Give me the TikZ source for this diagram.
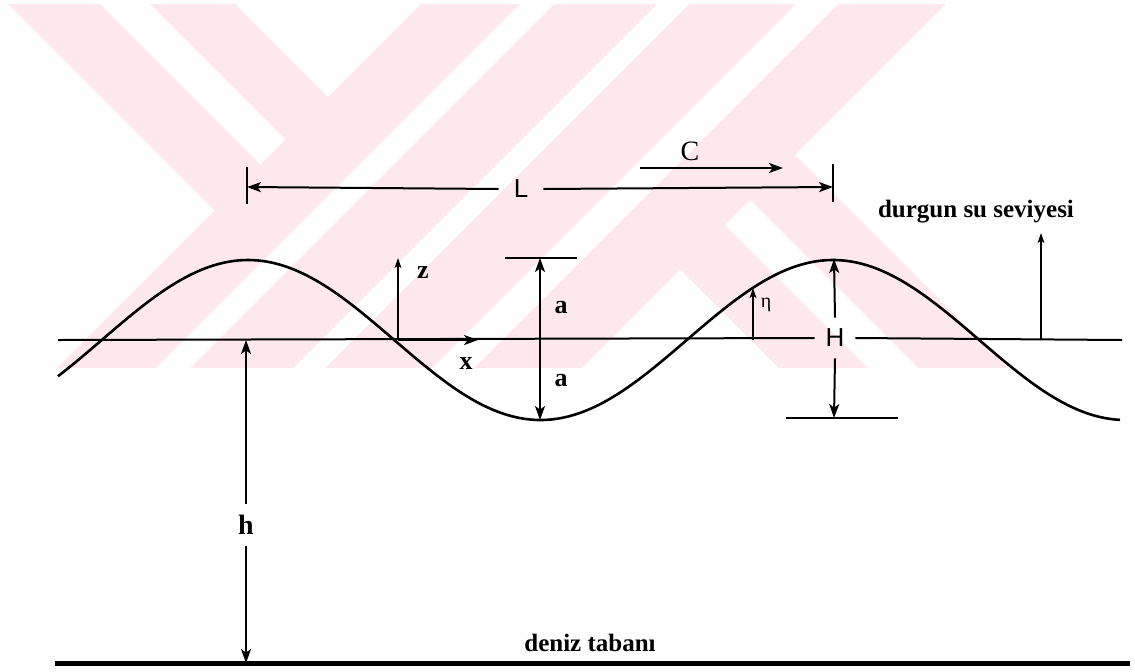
\documentclass[tikz,border=0pt]{standalone}
\usepackage{fontspec}
\setmainfont{Liberation Serif}
\newfontfamily\sansf{Liberation Sans}
\usetikzlibrary{arrows.meta}
\definecolor{wm}{RGB}{253,233,237}
\begin{document}
\begin{tikzpicture}[x=0.5pt,y=-0.5pt,
  ln/.style={line width=1pt},
  bigarr/.style={ln,-{Stealth[length=7pt,width=5pt,inset=1.8pt]}},
  smallarr/.style={line width=0.8pt,-{Stealth[length=5pt,width=3.4pt,inset=1.2pt]}},
  lbl/.style={inner sep=0pt,font=\bfseries\fontsize{13}{13}\selectfont},
  serif/.style={inner sep=0pt,font=\bfseries\fontsize{12.5}{12.5}\selectfont},
  sanslbl/.style={inner sep=0pt,font=\sansf\fontsize{13}{13}\selectfont}]
\useasboundingbox (0,0) rectangle (1135,671);
% watermark
\begin{scope}
\clip (0,4) rectangle (1135,368);
\fill[wm] (421,4) -- (520,4) -- (156,368) -- (57,368) -- cycle;
\fill[wm] (554,4) -- (657,4) -- (293,368) -- (190,368) -- cycle;
\fill[wm] (689,4) -- (796,4) -- (432,368) -- (325,368) -- cycle;
\fill[wm] (838,4) -- (946,4) -- (582,368) -- (474,368) -- cycle;
\fill[wm] (8,4) -- (100,4) -- (268,172) -- (222,218) -- cycle;
\fill[wm] (150,4) -- (235,4) -- (335.5,104.5) -- (293,147) -- cycle;
\fill[wm] (673,262) -- (717.5,217.5) -- (868,368) -- (779,368) -- cycle;
\fill[wm] (742.5,192.5) -- (787.5,147.5) -- (1008,368) -- (918,368) -- cycle;
\end{scope}
% named points
\coordinate (swlL) at (58,340);
\coordinate (swlR) at (1122,340);
\coordinate (crestA) at (247,187);
\coordinate (crestB) at (833,187);
\coordinate (orig) at (398,340);
\coordinate (ztip) at (398,258);
\coordinate (xtip) at (478,340);
\coordinate (atop) at (540,258);
\coordinate (abot) at (540,420);
\coordinate (Htop) at (834,259);
\coordinate (Hbot) at (834,418);
\coordinate (etab) at (753,340);
\coordinate (etat) at (753,288);
\coordinate (hbase) at (246,340);
\coordinate (hbed) at (246,663);
\coordinate (dsA) at (1041,340);
\coordinate (dsB) at (1041,233);
\coordinate (cA) at (640,168);
\coordinate (cB) at (783,168);
% labels
\node[sanslbl,minimum width=22pt] (L) at (521,189) {L};
\node[sanslbl,minimum width=20pt,minimum height=20pt] (H) at (835,338) {H};
\node[lbl,font=\bfseries\fontsize{14}{14}\selectfont,minimum height=21pt] (h) at (246,525) {h};
\node[inner sep=0pt,font=\fontsize{14}{14}\selectfont] (C) at (690,151) {C};
\node[serif] (ds) at (976,212) {durgun su seviyesi};
\node[serif] (dt) at (590,643) {deniz tabanı};
\node[lbl] (z) at (423,273) {z};
\node[lbl] (x) at (466,364) {x};
\node[lbl] (a1) at (561,308) {a};
\node[lbl] (a2) at (561,381) {a};
\node[inner sep=0pt,font=\fontsize{10}{10}\selectfont] (eta) at (766,305) {η};
% still water level
\draw[ln] (swlL) -- (H.west);
\draw[ln] (H.east) -- (swlR);
% wave
\draw[line width=1.3pt] plot[domain=58:1120,samples=240] (\x,{340-80*cos((\x-248)/585*360)});
% L dimension
\draw[ln] (247,167) -- (247,204);
\draw[ln] (833,164) -- (833,202);
\draw[bigarr] (L.west) -- (crestA);
\draw[bigarr] (L.east) -- (crestB);
% C
\draw[bigarr] (cA) -- (cB);
% axes
\draw[smallarr] (orig) -- (ztip);
\draw[bigarr,line width=0.9pt] (orig) -- (xtip);
% a
\draw[ln] (505,258) -- (577,258);
\draw[bigarr] (540,339) -- (atop);
\draw[bigarr] (540,339) -- (abot);
% eta
\draw[smallarr] (etab) -- (etat);
% H
\draw[bigarr] (H.north) -- (Htop);
\draw[bigarr] (H.south) -- (Hbot);
\draw[ln] (786,418) -- (898,418);
% durgun arrow
\draw[smallarr] (dsA) -- (dsB);
% h
\draw[bigarr] (h.north) -- (hbase);
\draw[bigarr] (h.south) -- (hbed);
% sea bed
\draw[line width=2.5pt] (55,663) -- (1130,663);
\end{tikzpicture}
\end{document}
